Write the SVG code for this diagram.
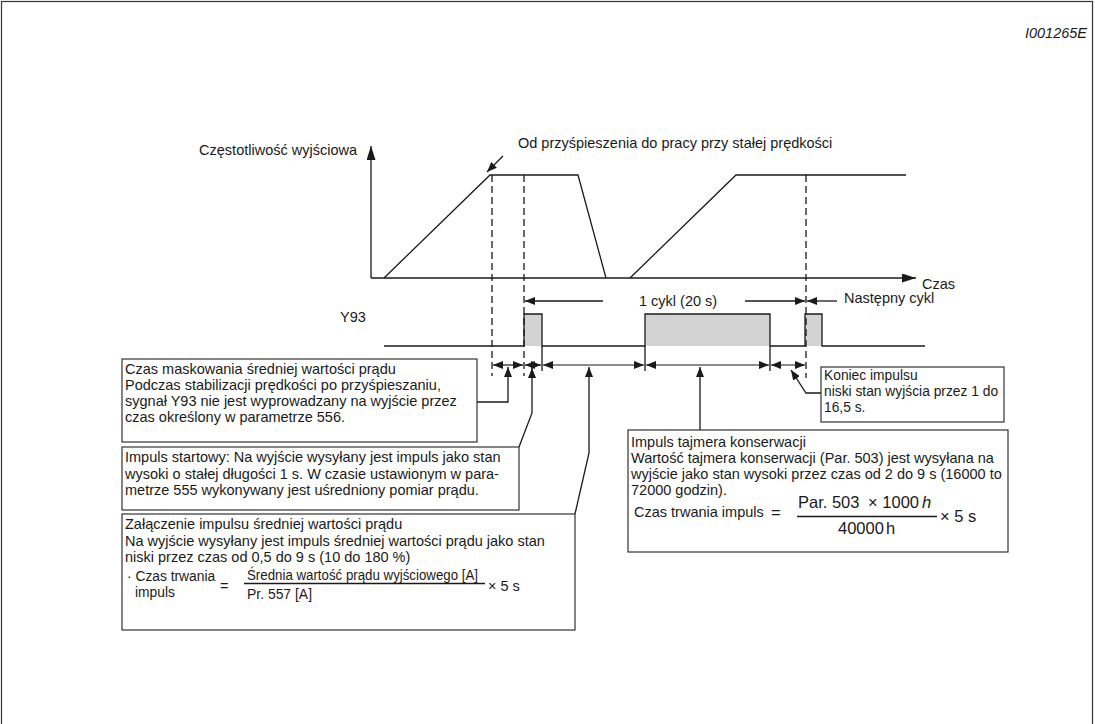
<svg xmlns="http://www.w3.org/2000/svg" width="1095" height="724" viewBox="0 0 1095 724">
  <defs>
    <style>
      .t { font-family: "Liberation Sans", Arial, sans-serif; font-size: 14.5px; fill: #1a1a1a; }
      .s { font-family: "Liberation Sans", Arial, sans-serif; font-size: 13.8px; fill: #1a1a1a; }
      .f { font-family: "Liberation Sans", Arial, sans-serif; font-size: 14px; fill: #1a1a1a; }
      .big { font-family: "Liberation Sans", Arial, sans-serif; font-size: 16.5px; fill: #1a1a1a; }
      .ln { fill: none; stroke: #1a1a1a; stroke-width: 1.3; }
      .dash { fill: none; stroke: #1a1a1a; stroke-width: 1.3; stroke-dasharray: 7 4; }
      .box { fill: #ffffff; stroke: #333333; stroke-width: 1.2; }
      .pulse { fill: #d3d3d3; stroke: none; }
      .dim { fill: none; stroke: #1a1a1a; stroke-width: 1.2; marker-start: url(#ah); marker-end: url(#ah); }
      .ptr { fill: none; stroke: #1a1a1a; stroke-width: 1.3; marker-end: url(#ah); }
    </style>
    <marker id="ah" viewBox="0 0 10 8" refX="10" refY="4" markerWidth="10" markerHeight="8" markerUnits="userSpaceOnUse" orient="auto-start-reverse">
      <path d="M0,0 L10,4 L0,8 z" fill="#1a1a1a"/>
    </marker>
    <marker id="axh" viewBox="0 0 14 9" refX="14" refY="4.5" markerWidth="14" markerHeight="9" markerUnits="userSpaceOnUse" orient="auto">
      <path d="M0,0 L14,4.5 L0,9 z" fill="#1a1a1a"/>
    </marker>
  </defs>

  <rect x="1.5" y="1.5" width="1091" height="760" fill="#ffffff" stroke="#333333" stroke-width="1.2"/>
  <text class="t" x="1087" y="38" text-anchor="end" font-style="italic">I001265E</text>

  <!-- frequency chart -->
  <g id="chart">
    <line class="ln" x1="371" y1="278" x2="371" y2="146" marker-end="url(#axh)"/>
    <line class="ln" x1="371" y1="278" x2="916" y2="278" marker-end="url(#axh)"/>
    <polyline class="ln" points="384,278 490,175 578,175 606,278"/>
    <polyline class="ln" points="630,278 736,175 906,175"/>
    <text class="t" x="357" y="155" text-anchor="end">Częstotliwość wyjściowa</text>
    <text class="t" x="518" y="148">Od przyśpieszenia do pracy przy stałej prędkości</text>
    <text class="t" x="922" y="289">Czas</text>
  </g>

  <!-- Y93 output signal -->
  <g id="y93">
    <text class="t" x="340" y="322">Y93</text>
    <rect class="pulse" x="524" y="314" width="18" height="32"/>
    <rect class="pulse" x="645" y="314" width="125" height="32"/>
    <rect class="pulse" x="805" y="314" width="17" height="32"/>
    <polyline class="ln" points="384,346 524,346 524,314 542,314 542,346 645,346 645,314 770,314 770,346 805,346 805,314 822,314 822,346 925,346"/>
    <text class="t" x="639" y="306">1 cykl (20 s)</text>
    <text class="t" x="844" y="303">Następny cykl</text>
  </g>

  <!-- connectors -->
  <g id="connectors">
    <path class="ptr" d="M503,156 L487,172"/>
    <line class="dash" x1="492" y1="175" x2="492" y2="376"/>
    <line class="dash" x1="524" y1="175" x2="524" y2="376"/>
    <line class="dash" x1="806" y1="175" x2="806" y2="378"/>
    <line class="ln" x1="542" y1="346" x2="542" y2="371"/>
    <line class="ln" x1="645" y1="346" x2="645" y2="371"/>
    <line class="ln" x1="770" y1="346" x2="770" y2="371"/>
    <path class="ptr" d="M603,301 L525,301"/>
    <path class="ptr" d="M745,301 L805,301"/>
    <path class="ptr" d="M837,301 L807,301"/>
    <line class="dim" x1="493" y1="365" x2="523" y2="365"/>
    <line class="dim" x1="525" y1="365" x2="541" y2="365"/>
    <line class="dim" x1="543" y1="365" x2="644" y2="365"/>
    <line class="dim" x1="646" y1="365" x2="769" y2="365"/>
    <line class="dim" x1="771" y1="365" x2="805" y2="365"/>
    <path class="ptr" d="M477,402 L508,402 L508,367"/>
    <path class="ptr" d="M519,447 L532,413 L532,368"/>
    <path class="ptr" d="M575,514 L589,453 L589,367"/>
    <path class="ptr" d="M700,430 L700,367"/>
    <path class="ptr" d="M821,393 L806,393 L791,370"/>
  </g>

  <g id="box-maskowanie">
    <rect class="box" x="122" y="359" width="355" height="83"/>
    <text class="t" x="125" y="373.5">Czas maskowania średniej wartości prądu<tspan x="125" dy="16.2">Podczas stabilizacji prędkości po przyśpieszaniu,</tspan><tspan x="125" dy="16.2">sygnał Y93 nie jest wyprowadzany na wyjście przez</tspan><tspan x="125" dy="16.2">czas określony w parametrze 556.</tspan></text>
  </g>

  <g id="box-startowy">
    <rect class="box" x="122" y="447" width="397" height="63"/>
    <text class="t" x="125" y="462.3">Impuls startowy: Na wyjście wysyłany jest impuls jako stan<tspan x="125" dy="16.2">wysoki o stałej długości 1 s. W czasie ustawionym w para-</tspan><tspan x="125" dy="16.2">metrze 555 wykonywany jest uśredniony pomiar prądu.</tspan></text>
  </g>

  <g id="box-zalaczenie">
    <rect class="box" x="122" y="514" width="453" height="116"/>
    <text class="t" x="125" y="529.3">Załączenie impulsu średniej wartości prądu<tspan x="125" dy="16.2">Na wyjście wysyłany jest impuls średniej wartości prądu jako stan</tspan><tspan x="125" dy="16.2">niski przez czas od 0,5 do 9 s (10 do 180 %)</tspan></text>
    <text class="s" x="127" y="580.5">· Czas trwania<tspan x="135" dy="16">impuls</tspan></text>
    <text class="t" x="220" y="591">=</text>
    <text class="f" x="247" y="579.5" textLength="231" lengthAdjust="spacingAndGlyphs">Średnia wartość prądu wyjściowego [A]</text>
    <line class="ln" x1="244" y1="583.5" x2="485" y2="583.5" stroke-width="1"/>
    <text class="f" x="247" y="598.5" textLength="65" lengthAdjust="spacingAndGlyphs">Pr. 557 [A]</text>
    <text class="t" x="488" y="591">× 5 s</text>
  </g>

  <g id="box-koniec">
    <rect class="box" x="821" y="367" width="183" height="55"/>
    <text class="s" x="824" y="380">Koniec impulsu<tspan x="824" dy="16">niski stan wyjścia przez 1 do</tspan><tspan x="824" dy="16">16,5 s.</tspan></text>
  </g>

  <g id="box-tajmer">
    <rect class="box" x="628" y="430" width="380" height="122"/>
    <text class="t" x="631" y="446.5">Impuls tajmera konserwacji<tspan x="631" dy="16.2">Wartość tajmera konserwacji (Par. 503) jest wysyłana na</tspan><tspan x="631" dy="16.2">wyjście jako stan wysoki przez czas od 2 do 9 s (16000 to</tspan><tspan x="631" dy="16.2">72000 godzin).</tspan></text>
    <text class="t" x="634" y="517">Czas trwania impuls</text>
    <text class="big" x="771" y="518">=</text>
    <text class="big" x="798" y="508">Par. 503 <tspan dx="4">× 1000</tspan><tspan font-style="italic" dx="3">h</tspan></text>
    <line class="ln" x1="797" y1="516.5" x2="937" y2="516.5" stroke-width="1"/>
    <text class="big" x="838" y="534">40000<tspan dx="2">h</tspan></text>
    <text class="big" x="940" y="522">× 5 s</text>
  </g>
</svg>
